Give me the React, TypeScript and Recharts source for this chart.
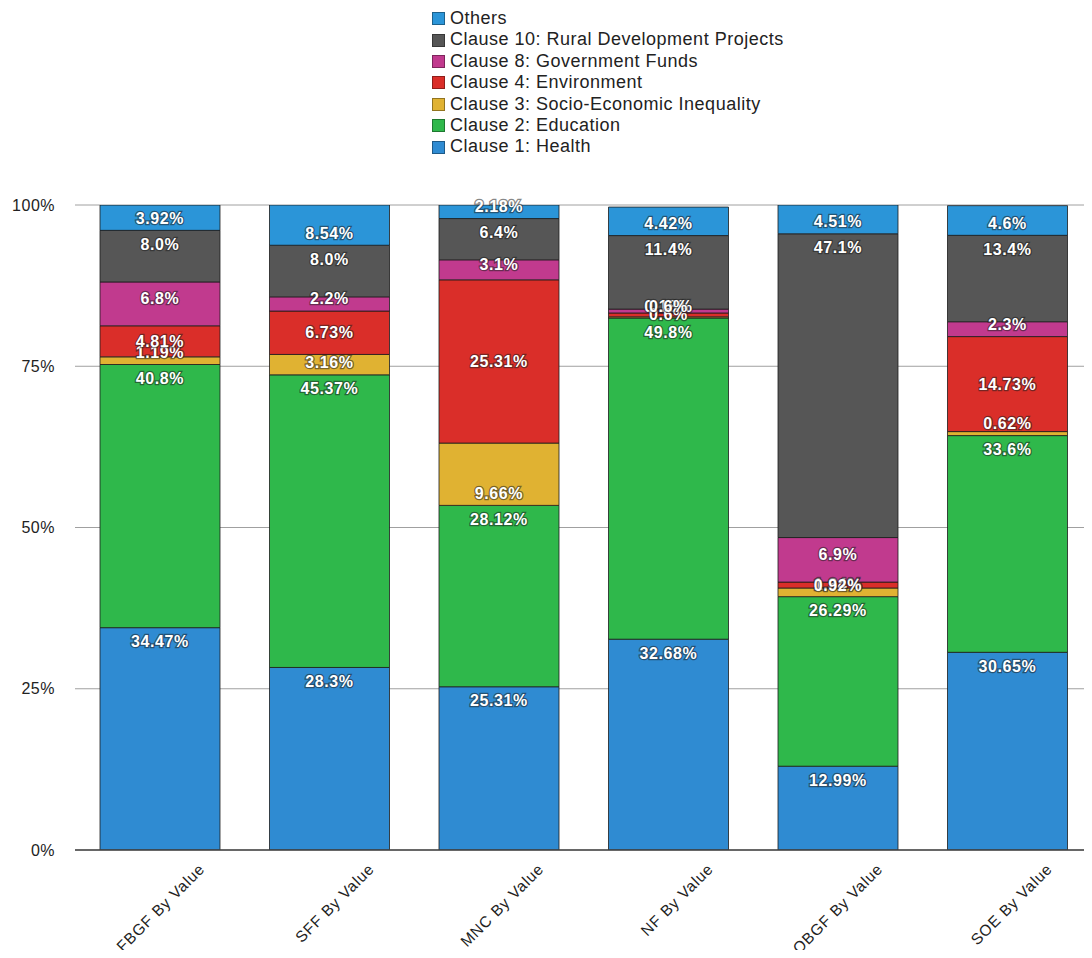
import React from "react";
import {
  BarChart,
  Bar,
  XAxis,
  YAxis,
  CartesianGrid,
  LabelList,
} from "recharts";

const categories = [
  "FBGF By Value",
  "SFF By Value",
  "MNC By Value",
  "NF By Value",
  "OBGF By Value",
  "SOE By Value",
];

const health = [34.47, 28.3, 25.31, 32.68, 12.99, 30.65];
const education = [40.8, 45.37, 28.12, 49.8, 26.29, 33.6];
const socio = [1.19, 3.16, 9.66, 0.18, 1.34, 0.62];
const environment = [4.81, 6.73, 25.31, 0.6, 0.92, 14.73];
const government = [6.8, 2.2, 3.1, 0.6, 6.9, 2.3];
const rural = [8.0, 8.0, 6.4, 11.4, 47.1, 13.4];
const others = [3.92, 8.54, 2.18, 4.42, 4.51, 4.6];

const yTicks = [0, 25, 50, 75, 100];

// stacked bottom -> top
const series = [
  { key: "health", name: "Clause 1: Health", color: "#2f8bd2", values: health, place: "top" },
  { key: "education", name: "Clause 2: Education", color: "#2fb84b", values: education, place: "top" },
  { key: "socio", name: "Clause 3: Socio-Economic Inequality", color: "#e0b232", values: socio, place: "bottom" },
  { key: "environment", name: "Clause 4: Environment", color: "#da2e29", values: environment, place: "center" },
  { key: "government", name: "Clause 8: Government Funds", color: "#c13a8e", values: government, place: "mid" },
  { key: "rural", name: "Clause 10: Rural Development Projects", color: "#565656", values: rural, place: "top" },
  { key: "others", name: "Others", color: "#2b95d8", values: others, place: "bottom" },
];

const data = categories.map((name, i) => {
  const row: any = { name };
  series.forEach((s) => {
    row[s.key] = s.values[i];
  });
  return row;
});

const FONT = "'Liberation Sans', Arial, Helvetica, sans-serif";

const fmt = (v: number) => (Number.isInteger(v) ? v.toFixed(1) : String(v)) + "%";

const makeLabel = (place: string) => (props: any) => {
  const vb = props.viewBox || props;
  const x = Number(vb.x ?? props.x);
  const y = Number(vb.y ?? props.y);
  const w = Number(vb.width ?? props.width);
  const h = Number(vb.height ?? props.height);
  const top = Math.min(y, y + h);
  const bottom = Math.max(y, y + h);
  let cy = (top + bottom) / 2;
  if (place === "top") cy = top + 14;
  if (place === "bottom") cy = bottom - 12;
  if (place === "mid") cy = (top + bottom) / 2 - 5;
  return (
    <text
      x={x + w / 2}
      y={cy}
      textAnchor="middle"
      dominantBaseline="central"
      fill="#ffffff"
      stroke="rgba(30,30,30,0.55)"
      strokeWidth={2.5}
      paintOrder="stroke"
      fontFamily={FONT}
      fontWeight="bold"
      fontSize={16}
      letterSpacing={0.6}
    >
      {fmt(Number(props.value))}
    </text>
  );
};

const XTick = (props: any) => {
  const { x, y, payload } = props;
  const ax = x + 46;
  const ay = y + 20;
  return (
    <text
      x={ax}
      y={ay}
      textAnchor="end"
      transform={`rotate(-45, ${ax}, ${ay})`}
      fill="#222"
      fontFamily={FONT}
      fontSize={15.5}
      letterSpacing={0.8}
    >
      {payload.value}
    </text>
  );
};

export default function App() {
  const legendItems = [...series].reverse();
  return (
    <div
      style={{
        position: "relative",
        width: 1084,
        height: 950,
        marginBottom: -8,
      }}
    >
      <div
        style={{
          position: "absolute",
          left: 424,
          top: 0,
          fontFamily: FONT,
          fontSize: 18,
          letterSpacing: 0.5,
          lineHeight: "21.4px",
          color: "#222",
          zIndex: 2,
        }}
      >
        {legendItems.map((s) => (
          <div key={s.key} style={{ display: "flex", alignItems: "center", whiteSpace: "nowrap" }}>
            <span
              style={{
                display: "inline-block",
                width: 13,
                height: 13,
                background: s.color,
                border: "1px solid rgba(0,0,0,0.35)",
                boxSizing: "border-box",
                marginRight: 5,
              }}
            />
            {s.name}
          </div>
        ))}
      </div>
      <BarChart
        width={1084}
        height={950}
        data={data}
        margin={{ top: 197, right: 0, bottom: 0, left: 0 }}
        style={{ overflow: "visible" }}
      >
        <CartesianGrid vertical={false} stroke="#a0a0a0" />
        <XAxis
          dataKey="name"
          height={108}
          tickLine={false}
          tickSize={0}
          tickMargin={0}
          axisLine={{ stroke: "#444", strokeWidth: 1.5 }}
          tick={<XTick />}
          interval={0}
        />
        <YAxis
          width={67}
          domain={[0, 100]}
          ticks={yTicks}
          allowDataOverflow
          axisLine={false}
          tickLine={false}
          tickMargin={14}
          tickFormatter={(v) => `${v}%`}
          tick={{ fill: "#222", fontSize: 16, fontFamily: FONT, letterSpacing: 0.5 }}
        />
        {series.map((s) => (
          <Bar
            key={s.key}
            dataKey={s.key}
            name={s.name}
            stackId="a"
            fill={s.color}
            stroke="#1c1c1c"
            strokeOpacity={0.8}
            strokeWidth={1}
            barSize={120}
            isAnimationActive={false}
          >
            <LabelList dataKey={s.key} content={makeLabel(s.place)} />
          </Bar>
        ))}
      </BarChart>
    </div>
  );
}
